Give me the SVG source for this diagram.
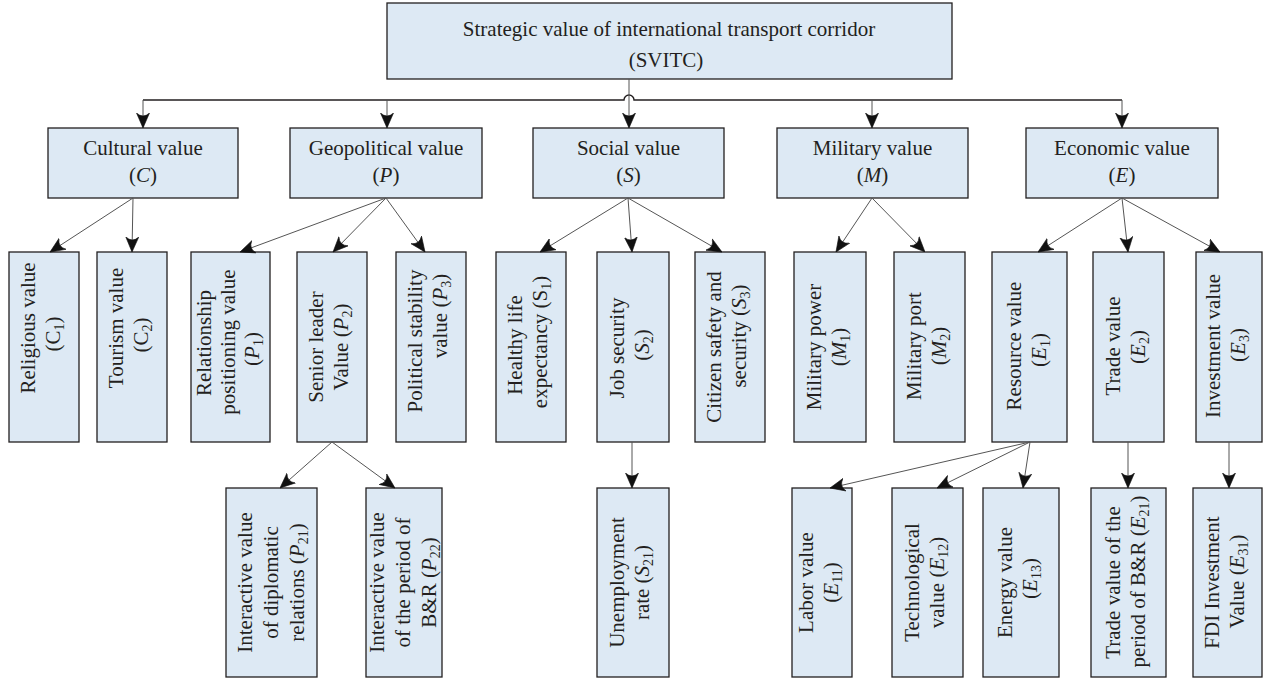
<svg xmlns="http://www.w3.org/2000/svg" width="1264" height="680" viewBox="0 0 1264 680">
<style>
.box{fill:#dde9f4;stroke:#231f20;stroke-width:1.3}
.t{font-family:"Liberation Serif","Times New Roman",serif;font-size:21px;fill:#231f20;text-anchor:middle}
.i{font-style:italic}
.sub{font-size:14px;baseline-shift:-4px;font-style:normal}
.conn{stroke:#555;stroke-width:1;fill:none;marker-end:url(#ah)}
.bus{stroke:#231f20;stroke-width:1.4;fill:none}
</style>
<defs>
<marker id="ah" markerUnits="userSpaceOnUse" markerWidth="15" markerHeight="14" refX="15" refY="7" orient="auto" viewBox="0 0 15 14">
<path d="M15,7 L0,0.5 Q6,7 0,13.5 Z" fill="#111" stroke="#111" stroke-width="0.6" stroke-linejoin="miter"/>
</marker>
</defs>
<rect width="1264" height="680" fill="#fff"/>

<g id="svitc">
<rect class="box" x="387" y="3" width="565" height="76"/>
<text class="t" x="669" y="36">Strategic value of international transport corridor</text>
<text class="t" x="666" y="67">(SVITC)</text>
</g>

<g id="C">
<rect class="box" x="48" y="128" width="190" height="70"/>
<text class="t" x="143" y="155">Cultural value</text>
<text class="t" x="143" y="182">(<tspan class="i">C</tspan>)</text>
</g>
<g id="P">
<rect class="box" x="290" y="128" width="192" height="70"/>
<text class="t" x="386" y="155">Geopolitical value</text>
<text class="t" x="386" y="182">(<tspan class="i">P</tspan>)</text>
</g>
<g id="S">
<rect class="box" x="533" y="128" width="191" height="70"/>
<text class="t" x="628.5" y="155">Social value</text>
<text class="t" x="628.5" y="182">(<tspan class="i">S</tspan>)</text>
</g>
<g id="M">
<rect class="box" x="777" y="128" width="191" height="70"/>
<text class="t" x="872.5" y="155">Military value</text>
<text class="t" x="872.5" y="182">(<tspan class="i">M</tspan>)</text>
</g>
<g id="E">
<rect class="box" x="1026" y="128" width="192" height="70"/>
<text class="t" x="1122" y="155">Economic value</text>
<text class="t" x="1122" y="182">(<tspan class="i">E</tspan>)</text>
</g>

<g id="C1">
<rect class="box" x="9" y="252" width="70" height="190"/>
<g transform="translate(44,347) rotate(-90)">
<text class="t" x="19" y="-9">Religious value</text>
<text class="t" x="13" y="16">(C<tspan class="sub">1</tspan>)</text>
</g>
</g>
<g id="C2">
<rect class="box" x="97" y="252" width="70" height="190"/>
<g transform="translate(132,347) rotate(-90)">
<text class="t" x="19" y="-9">Tourism value</text>
<text class="t" x="12" y="16">(C<tspan class="sub">2</tspan>)</text>
</g>
</g>
<g id="P1">
<rect class="box" x="191" y="252" width="79" height="190"/>
<g transform="translate(230.5,347) rotate(-90)">
<text class="t" x="4" y="-20">Relationship</text>
<text class="t" x="5" y="4">positioning value</text>
<text class="t" x="-2" y="28">(<tspan class="i">P</tspan><tspan class="sub">1</tspan>)</text>
</g>
</g>
<g id="P2">
<rect class="box" x="297" y="252" width="70" height="190"/>
<g transform="translate(332,347) rotate(-90)">
<text class="t" x="0" y="-9">Senior leader</text>
<text class="t" x="0" y="16">Value (<tspan class="i">P</tspan><tspan class="sub">2</tspan>)</text>
</g>
</g>
<g id="P3">
<rect class="box" x="396" y="252" width="70" height="190"/>
<g transform="translate(431,347) rotate(-90)">
<text class="t" x="6" y="-9">Political stability</text>
<text class="t" x="31" y="16">value (<tspan class="i">P</tspan><tspan class="sub">3</tspan>)</text>
</g>
</g>
<g id="S1">
<rect class="box" x="496" y="252" width="70" height="190"/>
<g transform="translate(531,347) rotate(-90)">
<text class="t" x="2" y="-9">Healthy life</text>
<text class="t" x="5" y="16">expectancy (S<tspan class="sub">1</tspan>)</text>
</g>
</g>
<g id="S2">
<rect class="box" x="597" y="252" width="72" height="190"/>
<g transform="translate(633,347) rotate(-90)">
<text class="t" x="-1" y="-9">Job security</text>
<text class="t" x="2" y="16">(<tspan class="i">S</tspan><tspan class="sub">2</tspan>)</text>
</g>
</g>
<g id="S3">
<rect class="box" x="695" y="252" width="70" height="190"/>
<g transform="translate(730,347) rotate(-90)">
<text class="t" x="0" y="-9">Citizen safety and</text>
<text class="t" x="11" y="16">security (<tspan class="i">S</tspan><tspan class="sub">3</tspan>)</text>
</g>
</g>
<g id="M1">
<rect class="box" x="794" y="252" width="72" height="190"/>
<g transform="translate(830,347) rotate(-90)">
<text class="t" x="0" y="-9">Military power</text>
<text class="t" x="0" y="16">(<tspan class="i">M</tspan><tspan class="sub">1</tspan>)</text>
</g>
</g>
<g id="M2">
<rect class="box" x="894" y="252" width="71" height="190"/>
<g transform="translate(929.5,347) rotate(-90)">
<text class="t" x="1" y="-9">Military port</text>
<text class="t" x="1" y="16">(<tspan class="i">M</tspan><tspan class="sub">2</tspan>)</text>
</g>
</g>
<g id="E1">
<rect class="box" x="992" y="252" width="75" height="190"/>
<g transform="translate(1029.5,347) rotate(-90)">
<text class="t" x="1" y="-9">Resource value</text>
<text class="t" x="-3" y="16">(<tspan class="i">E</tspan><tspan class="sub">1</tspan>)</text>
</g>
</g>
<g id="E2">
<rect class="box" x="1093" y="252" width="71" height="190"/>
<g transform="translate(1128.5,347) rotate(-90)">
<text class="t" x="1" y="-9">Trade value</text>
<text class="t" x="0" y="16">(<tspan class="i">E</tspan><tspan class="sub">2</tspan>)</text>
</g>
</g>
<g id="E3">
<rect class="box" x="1196" y="252" width="66" height="190"/>
<g transform="translate(1229,347) rotate(-90)">
<text class="t" x="1" y="-9">Investment value</text>
<text class="t" x="2" y="16">(<tspan class="i">E</tspan><tspan class="sub">3</tspan>)</text>
</g>
</g>

<g id="P21">
<rect class="box" x="226" y="488" width="91" height="189"/>
<g transform="translate(271.5,582.5) rotate(-90)">
<text class="t" x="0" y="-20">Interactive value</text>
<text class="t" x="0" y="6">of diplomatic</text>
<text class="t" x="0" y="32">relations (<tspan class="i">P</tspan><tspan class="sub">21</tspan>)</text>
</g>
</g>
<g id="P22">
<rect class="box" x="366" y="488" width="76" height="189"/>
<g transform="translate(404,582.5) rotate(-90)">
<text class="t" x="0" y="-20">Interactive value</text>
<text class="t" x="0" y="6">of the period of</text>
<text class="t" x="0" y="32">B&amp;R (<tspan class="i">P</tspan><tspan class="sub">22</tspan>)</text>
</g>
</g>
<g id="S21">
<rect class="box" x="597" y="488" width="72" height="189"/>
<g transform="translate(633,582.5) rotate(-90)">
<text class="t" x="0" y="-9">Unemployment</text>
<text class="t" x="0" y="16">rate (<tspan class="i">S</tspan><tspan class="sub">21</tspan>)</text>
</g>
</g>
<g id="E11">
<rect class="box" x="792" y="488" width="60" height="189"/>
<g transform="translate(822,582.5) rotate(-90)">
<text class="t" x="0" y="-9">Labor value</text>
<text class="t" x="0" y="16">(<tspan class="i">E</tspan><tspan class="sub">11</tspan>)</text>
</g>
</g>
<g id="E12">
<rect class="box" x="892" y="488" width="71" height="189"/>
<g transform="translate(927.5,582.5) rotate(-90)">
<text class="t" x="0" y="-9">Technological</text>
<text class="t" x="0" y="16">value (<tspan class="i">E</tspan><tspan class="sub">12</tspan>)</text>
</g>
</g>
<g id="E13">
<rect class="box" x="983" y="488" width="76" height="189"/>
<g transform="translate(1021,582.5) rotate(-90)">
<text class="t" x="0" y="-9">Energy value</text>
<text class="t" x="4" y="16">(<tspan class="i">E</tspan><tspan class="sub">13</tspan>)</text>
</g>
</g>
<g id="E21">
<rect class="box" x="1091" y="488" width="75" height="189"/>
<g transform="translate(1128.5,582.5) rotate(-90)">
<text class="t" x="0" y="-9">Trade value of the</text>
<text class="t" x="1" y="16">period of B&amp;R (<tspan class="i">E</tspan><tspan class="sub">21</tspan>)</text>
</g>
</g>
<g id="E31">
<rect class="box" x="1193" y="488" width="69" height="189"/>
<g transform="translate(1227.5,582.5) rotate(-90)">
<text class="t" x="0" y="-9">FDI Investment</text>
<text class="t" x="1" y="16">Value (<tspan class="i">E</tspan><tspan class="sub">31</tspan>)</text>
</g>
</g>

<g id="connectors">
<path class="bus" d="M143,100 H624 A5,5 0 0 1 634,100 H1122"/>
<line class="conn" x1="629" y1="79" x2="629" y2="128"/>
<line class="conn" x1="143" y1="100" x2="143" y2="128"/>
<line class="conn" x1="387" y1="100" x2="387" y2="128"/>
<line class="conn" x1="872" y1="100" x2="872" y2="128"/>
<line class="conn" x1="1122" y1="100" x2="1122" y2="128"/>
<line class="conn" x1="133" y1="198" x2="50" y2="252"/>
<line class="conn" x1="133" y1="198" x2="132" y2="252"/>
<line class="conn" x1="386" y1="198" x2="240" y2="252"/>
<line class="conn" x1="386" y1="198" x2="333" y2="252"/>
<line class="conn" x1="386" y1="198" x2="425" y2="252"/>
<line class="conn" x1="628" y1="198" x2="540" y2="252"/>
<line class="conn" x1="628" y1="198" x2="632" y2="252"/>
<line class="conn" x1="628" y1="198" x2="722" y2="252"/>
<line class="conn" x1="872" y1="198" x2="836" y2="252"/>
<line class="conn" x1="872" y1="198" x2="925" y2="252"/>
<line class="conn" x1="1122" y1="198" x2="1038" y2="252"/>
<line class="conn" x1="1122" y1="198" x2="1128" y2="252"/>
<line class="conn" x1="1122" y1="198" x2="1220" y2="252"/>
<line class="conn" x1="332" y1="442" x2="280" y2="488"/>
<line class="conn" x1="332" y1="442" x2="395" y2="488"/>
<line class="conn" x1="632" y1="442" x2="632" y2="488"/>
<line class="conn" x1="1030" y1="442" x2="830" y2="488"/>
<line class="conn" x1="1030" y1="442" x2="937" y2="488"/>
<line class="conn" x1="1030" y1="442" x2="1023" y2="488"/>
<line class="conn" x1="1128" y1="442" x2="1128" y2="488"/>
<line class="conn" x1="1229" y1="442" x2="1229" y2="488"/>
</g>
</svg>
